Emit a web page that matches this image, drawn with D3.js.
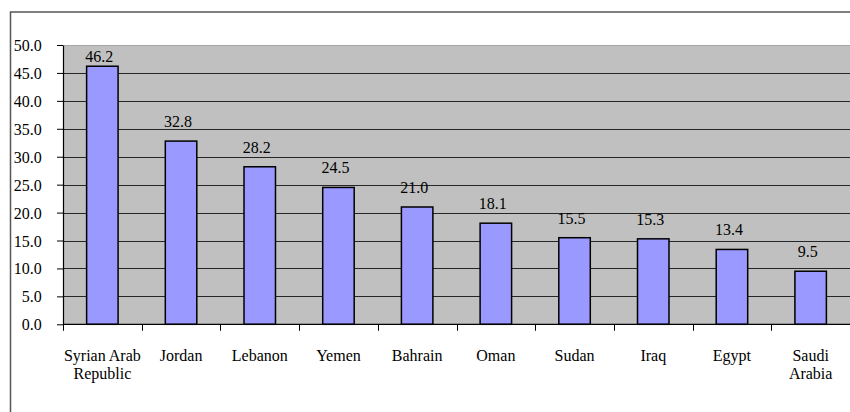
<!DOCTYPE html>
<html>
<head>
<meta charset="utf-8">
<script src="https://cdn.jsdelivr.net/npm/d3@7/dist/d3.min.js"></script>
<style>
  html, body { margin: 0; padding: 0; background: #fff; }
  svg { display: block; }
</style>
</head>
<body>
<svg id="chart" width="850" height="412"></svg>
<script>
// Country names (line breaks mark where the axis label wraps)
const categories = [
  "Syrian Arab\nRepublic", "Jordan", "Lebanon", "Yemen", "Bahrain",
  "Oman", "Sudan", "Iraq", "Egypt", "Saudi\nArabia"
];
const values = [46.2, 32.8, 28.2, 24.5, 21.0, 18.1, 15.5, 15.3, 13.4, 9.5];
const yTicks = [0, 5, 10, 15, 20, 25, 30, 35, 40, 45, 50];

const W = 850, H = 412;
const plot = { left: 63, right: 850, top: 45, bottom: 324.3 };
const FONT = "'Liberation Serif', 'Times New Roman', serif";

const svg = d3.select("#chart");

function styleText(sel) {
  return sel.style("font-family", FONT).style("font-size", "16px")
    .style("font-weight", "normal").attr("fill", "#000");
}

// Outer chart frame (runs past the right and bottom edges)
svg.append("rect")
  .attr("x", 10.5).attr("y", 12)
  .attr("width", W + 20).attr("height", H + 20)
  .attr("fill", "#fff").attr("stroke", "#555").attr("stroke-width", 1.5);

const x = d3.scaleBand()
  .domain(d3.range(categories.length))
  .range([plot.left, plot.right])
  .paddingInner(0.6)
  .paddingOuter(0.3);
const step = x.step();

const y = d3.scaleLinear().domain([0, 50]).range([plot.bottom, plot.top]);

// Plot area
svg.append("rect")
  .attr("x", plot.left).attr("y", plot.top)
  .attr("width", plot.right - plot.left + 2).attr("height", plot.bottom - plot.top)
  .attr("fill", "#c0c0c0");
svg.append("line")
  .attr("x1", plot.left).attr("x2", plot.right)
  .attr("y1", plot.top + 0.5).attr("y2", plot.top + 0.5)
  .attr("stroke", "#a6a6a6").attr("stroke-width", 1);

// Horizontal gridlines
svg.append("g")
  .selectAll("line")
  .data(yTicks.filter(t => t > 0 && t < 50))
  .join("line")
  .attr("x1", plot.left).attr("x2", plot.right)
  .attr("y1", d => Math.round(y(d)) + 0.5).attr("y2", d => Math.round(y(d)) + 0.5)
  .attr("stroke", "#262626").attr("stroke-width", 1);

// Bars
svg.append("g")
  .selectAll("rect")
  .data(values)
  .join("rect")
  .attr("x", (d, i) => x(i))
  .attr("y", d => y(d))
  .attr("width", x.bandwidth())
  .attr("height", d => y(0) - y(d))
  .attr("fill", "#9999ff")
  .attr("stroke", "#000")
  .attr("stroke-width", 1.5);

// Value labels above the bars, kept inside the plot area
svg.append("g")
  .selectAll("text")
  .data(values)
  .join("text")
  .call(styleText)
  .attr("text-anchor", "middle")
  .attr("x", (d, i) => x(i) + x.bandwidth() / 2 - 3)
  .attr("y", d => Math.max(y(d) - 14, plot.top + 16.7))
  .text(d => d.toFixed(1));

// Y axis
const yAxis = svg.append("g")
  .attr("transform", `translate(${plot.left},0)`)
  .call(d3.axisLeft(y).tickValues(yTicks).tickSize(6).tickSizeOuter(0).tickFormat(d3.format(".1f")));
yAxis.attr("font-family", null).attr("font-size", null);
yAxis.select(".domain").attr("stroke", "#000").attr("stroke-width", 1.2);
yAxis.selectAll(".tick line").attr("stroke", "#000");
yAxis.selectAll(".tick text")
  .call(styleText)
  .attr("x", -21.3).attr("dy", null).attr("y", 5.5)
  .attr("text-anchor", "end");

// X axis line and boundary ticks between categories
const xAxis = svg.append("g");
xAxis.append("line")
  .attr("x1", plot.left).attr("x2", plot.right)
  .attr("y1", plot.bottom).attr("y2", plot.bottom)
  .attr("stroke", "#000").attr("stroke-width", 1.2);
xAxis.selectAll("line.tick")
  .data(d3.range(categories.length + 1))
  .join("line")
  .attr("class", "tick")
  .attr("x1", i => Math.round(plot.left + i * step) + 0.5)
  .attr("x2", i => Math.round(plot.left + i * step) + 0.5)
  .attr("y1", plot.bottom).attr("y2", plot.bottom + 6.5)
  .attr("stroke", "#000").attr("stroke-width", 1);

// Category labels
const catLabels = svg.append("g")
  .selectAll("text")
  .data(categories)
  .join("text")
  .call(styleText)
  .attr("text-anchor", "middle")
  .attr("transform", (d, i) => `translate(${x(i) + x.bandwidth() / 2},360.6)`);
catLabels.each(function (d) {
  d3.select(this).selectAll("tspan")
    .data(d.split("\n"))
    .join("tspan")
    .attr("x", 0)
    .attr("y", (t, k) => k * 18.4)
    .text(t => t);
});
</script>
</body>
</html>
